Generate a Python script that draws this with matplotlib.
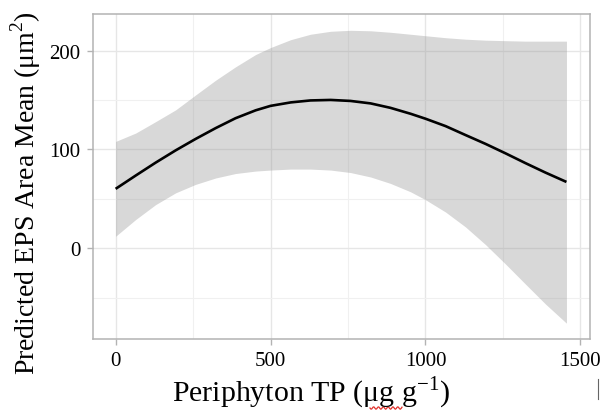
import matplotlib
matplotlib.use("Agg")
import matplotlib.pyplot as plt
import numpy as np

# values
tp = [0, 65, 129, 194, 258, 323, 387, 452, 500, 565, 629, 694,
      758, 823, 887, 952, 1000, 1065, 1129, 1194, 1258, 1323, 1387, 1455]
fit = [60, 73.5, 86.5, 99, 110.5, 121.5, 131.5, 139.5, 144, 147.5, 149.5, 150,
       149, 146.5, 142, 136, 131, 123.5, 114.5, 105.5, 96, 86, 76.5, 67]
upper = [108, 116.5, 128, 140, 155, 170, 183.5, 196, 203, 211, 216.5, 219.5,
         220.5, 220, 218.5, 216.5, 215, 213, 211.5, 210.5, 210, 209.5, 209.5, 209.5]
lower = [12, 29, 44, 56, 64.5, 71, 75.5, 78, 79, 80, 80, 79,
         76.5, 72, 65.5, 57, 49, 36.5, 21.5, 3.5, -16, -36.5, -56.5, -76]

x_ticks = [0, 500, 1000, 1500]
y_ticks = [0, 100, 200]

plt.rcParams['font.family'] = ['Liberation Serif', 'DejaVu Serif']
plt.rcParams['mathtext.fontset'] = 'custom'
plt.rcParams['mathtext.rm'] = 'Liberation Serif'

fig = plt.figure(figsize=(6.02, 4.14), dpi=100)
ax = fig.add_axes([93 / 602, 1 - 340 / 414, 497 / 602, 325 / 414])

ax.fill_between(tp, lower, upper, color='#999999', alpha=0.38, linewidth=0, zorder=2)
ax.plot(tp, fit, color='black', linewidth=1.9, zorder=3,
        solid_joinstyle='round', solid_capstyle='butt')

ax.set_xlim(-73, 1531)
ax.set_ylim(-92, 237)
ax.set_xticks(x_ticks)
ax.set_yticks(y_ticks)
ax.set_xticks([250, 750, 1250], minor=True)
ax.set_yticks([-50, 50, 150], minor=True)
ax.grid(which='major', color='#e6e6e6', linewidth=1.0, zorder=0)
ax.grid(which='minor', color='#f0f0f0', linewidth=0.8, zorder=0)
ax.set_axisbelow(True)

for s in ax.spines.values():
    s.set_color('#b3b3b3')
    s.set_linewidth(1.1)
ax.tick_params(which='major', length=4, width=1.0, color='#b3b3b3',
               labelsize=15, labelcolor='black', pad=5)
ax.tick_params(which='minor', length=0)

fig.text(311 / 602, 1 - 402 / 414, 'Periphyton TP (μg g$^{\\mathregular{-1}}$)',
         ha='center', va='baseline', fontsize=21.5)
fig.text(26 / 602, 1 - 193 / 414, 'Predicted EPS Area Mean (μm$^{\\mathregular{2}}$)',
         ha='center', va='center', fontsize=20, rotation=90)

# spell-check squiggle and stray cursor from the source screenshot
sx = np.linspace(370, 402, 40)
sy = 409 + 1.2 * np.sin((sx - 370) * 1.3)
fig.add_artist(plt.Line2D(sx / 602, 1 - sy / 414, color='#e0302a', linewidth=0.9))
fig.add_artist(plt.Line2D([598 / 602, 598 / 602], [1 - 380 / 414, 1 - 400 / 414],
                          color='#666666', linewidth=0.8))

fig.savefig('out.png', dpi=100)
